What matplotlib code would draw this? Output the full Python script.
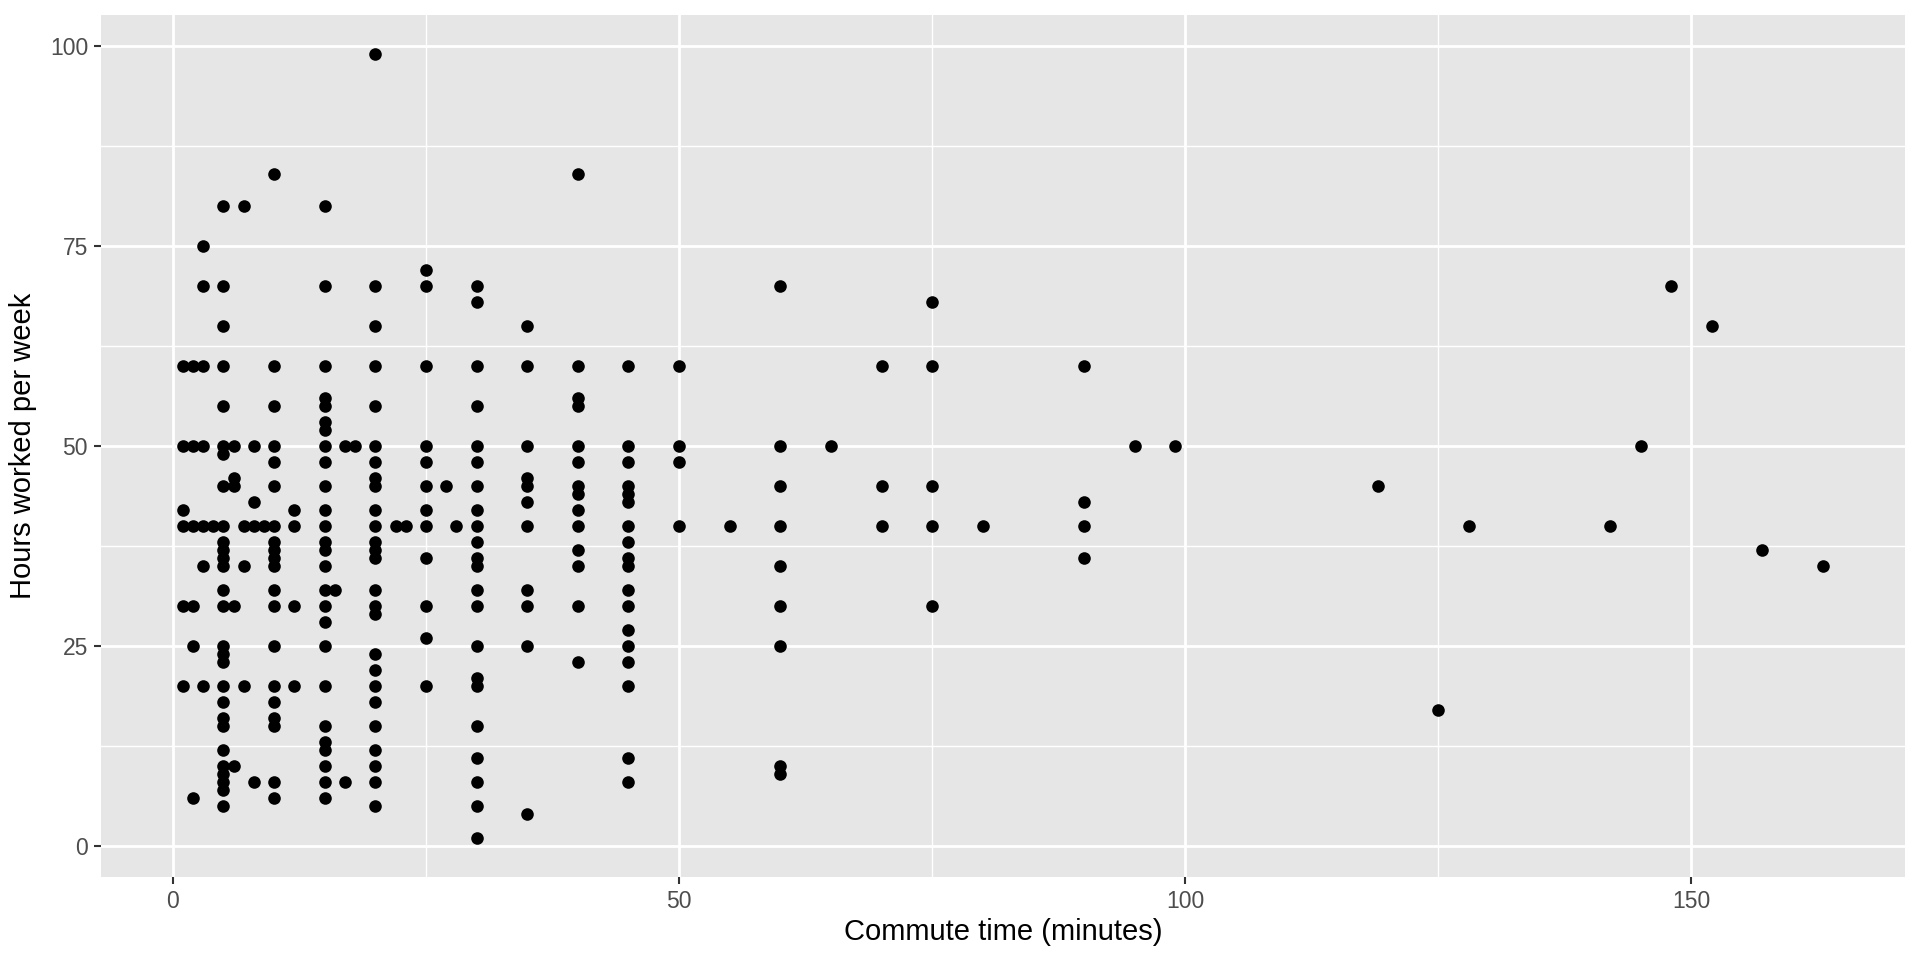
import matplotlib
matplotlib.use("Agg")
import matplotlib.pyplot as plt
from matplotlib.ticker import FixedLocator

plt.rcParams['font.family'] = ['Liberation Sans', 'DejaVu Sans']

# commute time (minutes) -> hours worked per week, grouped by commute time
commute_1 = [60, 50, 42, 40, 30, 20]
commute_2 = [60, 50, 40, 30, 25, 6]
commute_3 = [75, 70, 60, 50, 40, 35, 20]
commute_4 = [40]
commute_5 = [80, 70, 65, 60, 55, 50, 49, 45, 40, 38, 37, 36, 35, 32, 30, 25, 24, 23,
             20, 18, 16, 15, 12, 10, 9, 8, 7, 5]
commute_6 = [50, 46, 45, 30, 10]
commute_7 = [80, 40, 35, 20]
commute_8 = [50, 43, 40, 8]
commute_9 = [40]
commute_10 = [84, 60, 55, 50, 48, 45, 40, 38, 37, 36, 35, 32, 30, 25, 20, 18, 16, 15, 8, 6]
commute_12 = [42, 40, 30, 20]
commute_15 = [80, 70, 60, 56, 55, 53, 52, 50, 48, 45, 42, 40, 38, 37, 35, 32, 30, 28,
              25, 20, 15, 13, 12, 10, 8, 6]
commute_16 = [32]
commute_17 = [50, 8]
commute_18 = [50]
commute_20 = [99, 70, 65, 60, 55, 50, 48, 46, 45, 42, 40, 38, 37, 36, 32, 30, 29, 24,
              22, 20, 18, 15, 12, 10, 8, 5]
commute_22 = [40]
commute_23 = [40]
commute_25 = [72, 70, 60, 50, 48, 45, 42, 40, 36, 30, 26, 20]
commute_27 = [45]
commute_28 = [40]
commute_30 = [70, 68, 60, 55, 50, 48, 45, 42, 40, 38, 36, 35, 32, 30, 25, 21, 20, 15, 11, 8, 5, 1]
commute_35 = [65, 60, 50, 46, 45, 43, 40, 32, 30, 25, 4]
commute_40 = [84, 60, 56, 55, 50, 48, 45, 44, 42, 40, 37, 35, 30, 23]
commute_45 = [60, 50, 48, 45, 44, 43, 40, 38, 36, 35, 32, 30, 27, 25, 23, 20, 11, 8]
commute_50 = [60, 50, 48, 40]
commute_55 = [40]
commute_60 = [70, 50, 45, 40, 35, 30, 25, 10, 9]
commute_65 = [50]
commute_70 = [60, 45, 40]
commute_75 = [68, 60, 45, 40, 30]
commute_80 = [40]
commute_90 = [60, 43, 40, 36]
commute_95 = [50]
commute_99 = [50]
commute_119 = [45]
commute_125 = [17]
commute_128 = [40]
commute_142 = [40]
commute_145 = [50]
commute_148 = [70]
commute_152 = [65]
commute_157 = [37]
commute_163 = [35]

groups = {
    1: commute_1, 2: commute_2, 3: commute_3, 4: commute_4, 5: commute_5,
    6: commute_6, 7: commute_7, 8: commute_8, 9: commute_9, 10: commute_10,
    12: commute_12, 15: commute_15, 16: commute_16, 17: commute_17, 18: commute_18,
    20: commute_20, 22: commute_22, 23: commute_23, 25: commute_25, 27: commute_27,
    28: commute_28, 30: commute_30, 35: commute_35, 40: commute_40, 45: commute_45,
    50: commute_50, 55: commute_55, 60: commute_60, 65: commute_65, 70: commute_70,
    75: commute_75, 80: commute_80, 90: commute_90, 95: commute_95, 99: commute_99,
    119: commute_119, 125: commute_125, 128: commute_128, 142: commute_142,
    145: commute_145, 148: commute_148, 152: commute_152, 157: commute_157,
    163: commute_163,
}

x_ticks = [0, 50, 100, 150]
y_ticks = [0, 25, 50, 75, 100]
x_label = "Commute time (minutes)"
y_label = "Hours worked per week"

xs, ys = [], []
for k, vals in groups.items():
    for v in vals:
        xs.append(k)
        ys.append(v)

fig = plt.figure(figsize=(19.2, 9.6), dpi=100)
ax = fig.add_axes([101 / 1920, 1 - 877 / 960, (1905 - 101) / 1920, (877 - 14.5) / 960])
ax.set_facecolor("#E6E6E6")
for s in ax.spines.values():
    s.set_visible(False)

xr = max(xs) - min(xs)
yr = max(ys) - min(ys)
ax.set_xlim(min(xs) - 0.05 * xr, max(xs) + 0.05 * xr)
ax.set_ylim(min(ys) - 0.05 * yr, max(ys) + 0.05 * yr)

ax.xaxis.set_major_locator(FixedLocator(x_ticks))
ax.yaxis.set_major_locator(FixedLocator(y_ticks))
ax.xaxis.set_minor_locator(FixedLocator([25, 75, 125]))
ax.yaxis.set_minor_locator(FixedLocator([12.5, 37.5, 62.5, 87.5]))

ax.grid(which="major", color="white", linewidth=2.0)
ax.grid(which="minor", color="white", linewidth=1.0)
ax.set_axisbelow(True)

ax.tick_params(which="major", length=5.3, width=1.5, color="#333333",
               labelsize=16.5, labelcolor="#4D4D4D", pad=4)
ax.tick_params(which="minor", length=0)

ax.scatter(xs, ys, s=82, color="black", linewidths=0, zorder=3)

ax.set_xlabel(x_label, fontsize=21, color="black")
ax.set_ylabel(y_label, fontsize=21, color="black")
ax.xaxis.set_label_coords(0.5, -0.047)
ax.yaxis.set_label_coords(-0.0355, 0.5)

fig.savefig("out.png", dpi=100, facecolor="white")
